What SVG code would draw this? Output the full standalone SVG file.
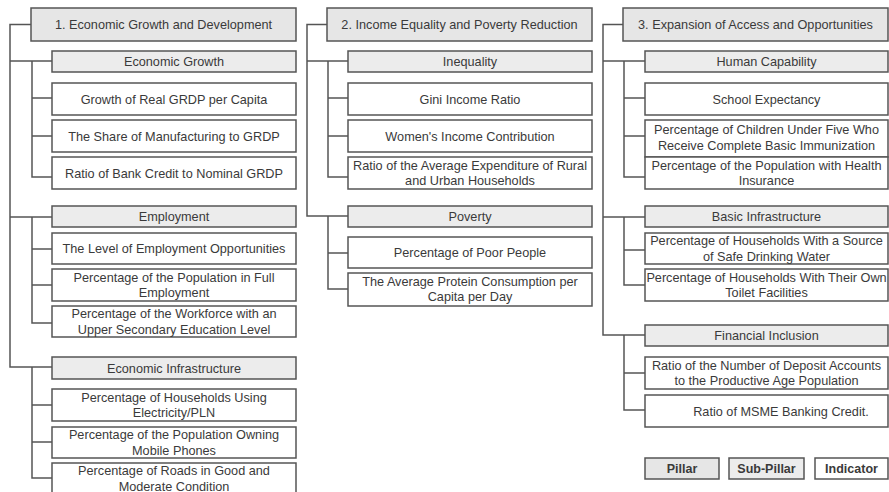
<svg xmlns="http://www.w3.org/2000/svg" width="889" height="492" viewBox="0 0 889 492">
<style>
rect{stroke:#555;stroke-width:1.5}
.p{fill:#e6e6e6}
.s{fill:#ececec}
.i{fill:#fff}
text{font-family:"Liberation Sans",Arial,sans-serif;font-size:12.7px;fill:#3a3a3a;text-anchor:middle}
.b{font-weight:bold;font-size:12.5px}
#connectors path{fill:none;stroke:#555;stroke-width:1.5}
</style>
<rect x="0" y="0" width="889" height="492" fill="#fff" style="stroke:none"/>
<g id="connectors">
<path d="M31,24.5H10V367H52M10,61H52M10,217H52"/>
<path d="M32,61V177H52M32,98H52M32,136H52"/>
<path d="M32,217V323H52M32,249H52M32,285H52"/>
<path d="M32,367V478H52M32,405H52M32,442H52"/>
<path d="M327,24.5H307V216H348M307,61H348"/>
<path d="M328,61V177H348M328,98H348M328,136H348"/>
<path d="M328,216V289H348M328,253H348"/>
<path d="M623,24.5H603V335H645M603,61H645M603,217H645"/>
<path d="M624,61V177H645M624,98H645M624,136H645"/>
<path d="M624,217V285H645M624,250H645"/>
<path d="M624,335V410H645M624,373H645"/>
</g>
<g id="pillar1"><rect class="p" x="31" y="8" width="265" height="33"/><text x="163.5" y="29">1. Economic Growth and Development</text></g>
<g id="sub-economic-growth"><rect class="s" x="52" y="51" width="244" height="21"/><text x="174" y="66">Economic Growth</text></g>
<g id="ind-grdp-capita"><rect class="i" x="52" y="83" width="244" height="32"/><text x="174" y="103.5">Growth of Real GRDP per Capita</text></g>
<g id="ind-manufacturing"><rect class="i" x="52" y="120" width="244" height="32"/><text x="174" y="140.5">The Share of Manufacturing to GRDP</text></g>
<g id="ind-bank-credit"><rect class="i" x="52" y="157" width="244" height="32"/><text x="174" y="177.5">Ratio of Bank Credit to Nominal GRDP</text></g>
<g id="sub-employment"><rect class="s" x="52" y="206" width="244" height="21"/><text x="174" y="221">Employment</text></g>
<g id="ind-employment-opp"><rect class="i" x="52" y="233" width="244" height="31"/><text x="174" y="253">The Level of Employment Opportunities</text></g>
<g id="ind-full-employment"><rect class="i" x="52" y="269" width="244" height="32"/><text x="174" y="281.5">Percentage of the Population in Full</text><text x="174" y="297">Employment</text></g>
<g id="ind-workforce"><rect class="i" x="52" y="306" width="244" height="31"/><text x="174" y="318">Percentage of the Workforce with an</text><text x="174" y="333.5">Upper Secondary Education Level</text></g>
<g id="sub-econ-infra"><rect class="s" x="52" y="357" width="244" height="22"/><text x="174" y="372.5">Economic Infrastructure</text></g>
<g id="ind-electricity"><rect class="i" x="52" y="389" width="244" height="32"/><text x="174" y="401.5">Percentage of Households Using</text><text x="174" y="417">Electricity/PLN</text></g>
<g id="ind-mobile"><rect class="i" x="52" y="427" width="244" height="31"/><text x="174" y="439">Percentage of the Population Owning</text><text x="174" y="454.5">Mobile Phones</text></g>
<g id="ind-roads"><rect class="i" x="52" y="463" width="244" height="34"/><text x="174" y="475">Percentage of Roads in Good and</text><text x="174" y="490.5">Moderate Condition</text></g>

<g id="pillar2"><rect class="p" x="327" y="8" width="265" height="33"/><text x="459.5" y="29">2. Income Equality and Poverty Reduction</text></g>
<g id="sub-inequality"><rect class="s" x="348" y="51" width="244" height="21"/><text x="470" y="66">Inequality</text></g>
<g id="ind-gini"><rect class="i" x="348" y="83" width="244" height="32"/><text x="470" y="103.5">Gini Income Ratio</text></g>
<g id="ind-women"><rect class="i" x="348" y="120" width="244" height="32"/><text x="470" y="140.5">Women's Income Contribution</text></g>
<g id="ind-rural-urban"><rect class="i" x="348" y="157" width="244" height="32"/><text x="470" y="169.5">Ratio of the Average Expenditure of Rural</text><text x="470" y="185">and Urban Households</text></g>
<g id="sub-poverty"><rect class="s" x="348" y="206" width="244" height="21"/><text x="470" y="221">Poverty</text></g>
<g id="ind-poor"><rect class="i" x="348" y="237" width="244" height="31"/><text x="470" y="257">Percentage of Poor People</text></g>
<g id="ind-protein"><rect class="i" x="348" y="273" width="244" height="33"/><text x="470" y="285.5">The Average Protein Consumption per</text><text x="470" y="301">Capita per Day</text></g>

<g id="pillar3"><rect class="p" x="623" y="8" width="265" height="33"/><text x="755.5" y="29">3. Expansion of Access and Opportunities</text></g>
<g id="sub-human"><rect class="s" x="645" y="51" width="243" height="21"/><text x="766.5" y="66">Human Capability</text></g>
<g id="ind-school"><rect class="i" x="645" y="83" width="243" height="32"/><text x="766.5" y="103.5">School Expectancy</text></g>
<g id="ind-immunization"><rect class="i" x="645" y="120" width="243" height="37"/><text x="766.5" y="134">Percentage of Children Under Five Who</text><text x="766.5" y="149.5">Receive Complete Basic Immunization</text></g>
<g id="ind-health"><rect class="i" x="645" y="157" width="243" height="32"/><text x="766.5" y="169.5">Percentage of the Population with Health</text><text x="766.5" y="185">Insurance</text></g>
<g id="sub-basic-infra"><rect class="s" x="645" y="206" width="243" height="21"/><text x="766.5" y="221">Basic Infrastructure</text></g>
<g id="ind-water"><rect class="i" x="645" y="233" width="243" height="31"/><text x="766.5" y="245">Percentage of Households With a Source</text><text x="766.5" y="260.5">of Safe Drinking Water</text></g>
<g id="ind-toilet"><rect class="i" x="645" y="269" width="243" height="32"/><text x="766.5" y="281.5">Percentage of Households With Their Own</text><text x="766.5" y="297">Toilet Facilities</text></g>
<g id="sub-financial"><rect class="s" x="645" y="325" width="243" height="21"/><text x="766.5" y="340">Financial Inclusion</text></g>
<g id="ind-deposit"><rect class="i" x="645" y="357" width="243" height="32"/><text x="766.5" y="369.5">Ratio of the Number of Deposit Accounts</text><text x="766.5" y="385">to the Productive Age Population</text></g>
<g id="ind-msme"><rect class="i" x="645" y="395" width="243" height="32"/><text x="781" y="415.5">Ratio of MSME Banking Credit.</text></g>

<g id="legend-pillar"><rect class="p" x="645" y="458" width="74" height="21"/><text class="b" x="682" y="473">Pillar</text></g>
<g id="legend-subpillar"><rect class="s" x="729" y="458" width="75" height="21"/><text class="b" x="766.5" y="473">Sub-Pillar</text></g>
<g id="legend-indicator"><rect class="i" x="815" y="458" width="73" height="21"/><text class="b" x="851.5" y="473">Indicator</text></g>
</svg>
